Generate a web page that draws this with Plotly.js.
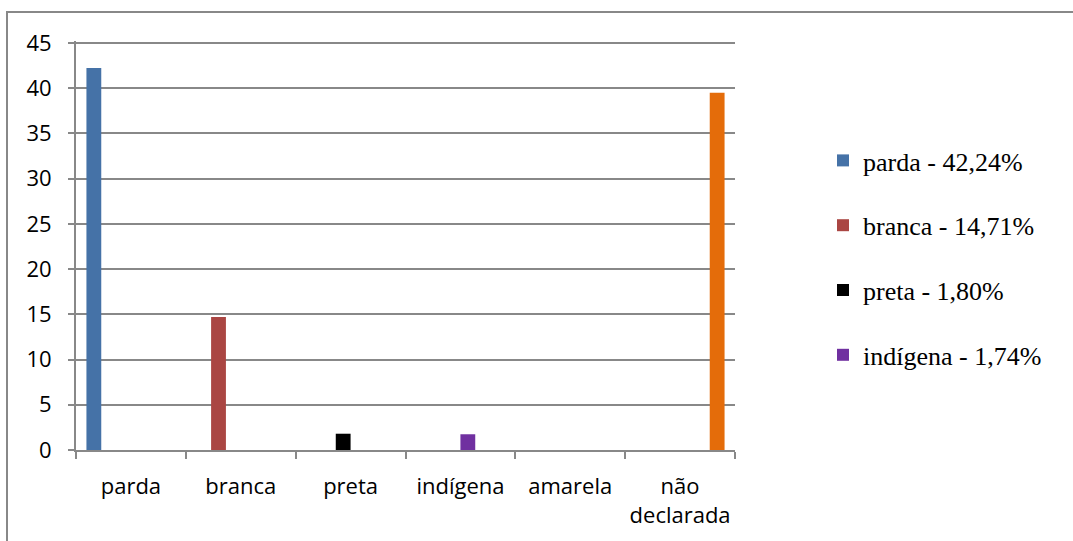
<!DOCTYPE html>
<html>
<head>
<meta charset="utf-8">
<script src="https://cdn.plot.ly/plotly-3.0.1.min.js"></script>
<style>html,body{margin:0;padding:0;background:#fff;}#chart{width:1073px;height:541px;}</style>
</head>
<body>
<div id="chart"></div>
<script>
const categories = ['parda', 'branca', 'preta', 'indígena', 'amarela', 'não<br>declarada'];
const seriesNames = ['parda', 'branca', 'preta', 'indígena', 'amarela', 'não declarada'];
const seriesValues = [42.24, 14.71, 1.80, 1.74, 0, 39.51];
const legendLabels = ['parda - 42,24%', 'branca - 14,71%', 'preta - 1,80%', 'indígena - 1,74%', '', ''];
const showInLegend = [true, true, true, true, false, false];
const colors = ['#4572A7', '#AA4643', '#000000', '#7030A0', '#F79646', '#E46C0A'];
const yTicks = [0, 5, 10, 15, 20, 25, 30, 35, 40, 45];

const traces = seriesNames.map((name, i) => ({
  type: 'bar',
  name: legendLabels[i] || name,
  x: categories,
  y: categories.map((c, j) => (j === i ? seriesValues[i] : null)),
  marker: { color: colors[i] },
  showlegend: showInLegend[i],
  legendgroup: 'g' + i,
  hoverinfo: 'x+y'
}));

const plotL = 76, plotR = 735, plotT = 41, plotB = 450;
const W = 1073, H = 541;
const pw = plotR - plotL, ph = plotB - plotT;
const yMax = 45 * ph / (plotB - 43);
const px = p => (p - plotL) / pw;
const py = p => (plotB - p) / ph;

const layout = {
  width: W, height: H,
  margin: { l: plotL, r: W - plotR, t: plotT, b: H - plotB, pad: 0 },
  paper_bgcolor: '#ffffff',
  plot_bgcolor: '#ffffff',
  barmode: 'group',
  bargap: 0.19,
  bargroupgap: 0,
  showlegend: true,
  legend: {
    x: px(823), y: py(137), xanchor: 'left', yanchor: 'top',
    font: { family: 'Liberation Serif, Times New Roman, serif', size: 26, color: '#000' },
    traceorder: 'grouped',
    tracegroupgap: 28,
    bgcolor: 'rgba(0,0,0,0)'
  },
  xaxis: {
    type: 'category',
    tickson: 'boundaries',
    tickangle: 0,
    ticks: 'outside', ticklen: 7, tickwidth: 2, tickcolor: '#888888',
    showline: true, linecolor: '#888888', linewidth: 2,
    showgrid: false,
    tickfont: { family: 'Open Sans, sans-serif', size: 22, color: '#000' },
    ticklabelstandoff: 16,
    fixedrange: true
  },
  yaxis: {
    range: [0, yMax],
    tickmode: 'array',
    tickvals: yTicks,
    ticktext: yTicks.map(String),
    ticks: 'outside', ticklen: 6, tickwidth: 2, tickcolor: '#888888',
    showline: true, linecolor: '#888888', linewidth: 2,
    showgrid: true, gridcolor: '#888888', gridwidth: 2,
    zeroline: false,
    tickfont: { family: 'Open Sans, sans-serif', size: 22, color: '#000' },
    ticklabelstandoff: 12,
    fixedrange: true
  },
  shapes: [{
    type: 'rect', xref: 'paper', yref: 'paper',
    x0: px(7), x1: px(1080), y0: py(550), y1: py(12),
    line: { color: '#888888', width: 2 }, fillcolor: 'rgba(0,0,0,0)', layer: 'below'
  }]
};

Plotly.newPlot('chart', traces, layout, { displayModeBar: false, staticPlot: true });
</script>
</body>
</html>
